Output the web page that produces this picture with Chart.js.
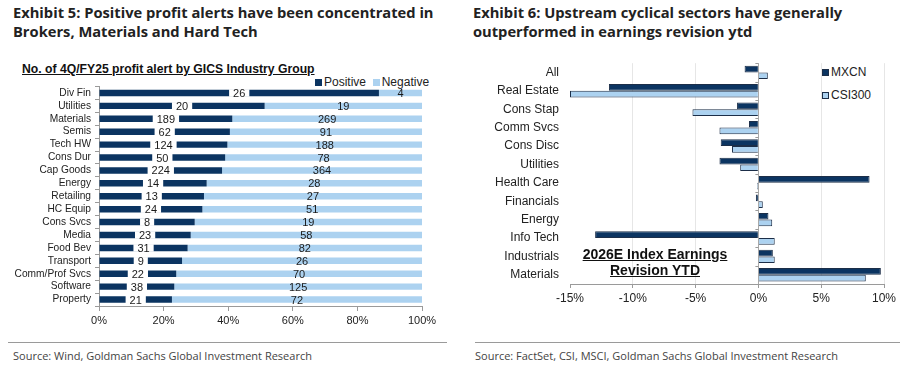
<!DOCTYPE html>
<html>
<head>
<meta charset="utf-8">
<script src="https://cdn.jsdelivr.net/npm/chart.js@4/dist/chart.umd.min.js"></script>
<style>
  html,body{margin:0;padding:0;background:#fff;}
  body{width:909px;height:371px;position:relative;overflow:hidden;font-family:"Liberation Sans",Arial,sans-serif;}
  .title{position:absolute;font-family:"Open Sans",sans-serif;font-weight:700;font-size:14.7px;line-height:19px;color:#222;}
  .sub{position:absolute;font-weight:700;font-size:12.2px;text-decoration:underline;color:#111;}
  .leg{position:absolute;font-size:12px;color:#222;white-space:nowrap;}
  .sw{display:inline-block;width:7px;height:7px;margin-right:2px;vertical-align:0px;box-sizing:border-box;}
  .rule{position:absolute;border-top:1px solid #9a9a9a;height:0;}
  .src{position:absolute;font-family:"Open Sans",sans-serif;font-size:11px;color:#444;white-space:nowrap;}
  .note{position:absolute;font-weight:700;font-size:14px;line-height:16px;text-decoration:underline;text-align:center;color:#111;}
  canvas{position:absolute;}
</style>
</head>
<body>
<div class="title" style="left:13px;top:3px;">Exhibit 5: Positive profit alerts have been concentrated in<br>Brokers, Materials and Hard Tech</div>
<div class="title" style="left:473px;top:3px;">Exhibit 6: Upstream cyclical sectors have generally<br>outperformed in earnings revision ytd</div>
<div class="sub" style="left:22px;top:62px;">No. of 4Q/FY25 profit alert by GICS Industry Group</div>
<div class="leg" id="legL" style="left:315px;top:75px;"></div>
<div class="leg" id="legR" style="left:822px;top:61px;line-height:23px;"></div>
<canvas id="c1" width="455" height="275" style="left:0;top:60px;"></canvas>
<canvas id="c2" width="439" height="270" style="left:470px;top:45px;"></canvas>
<div class="note" style="left:555px;top:246px;width:200px;">2026E Index Earnings<br>Revision YTD</div>
<div class="rule" style="left:8px;top:342px;width:439px;"></div>
<div class="rule" style="left:475px;top:342px;width:425px;"></div>
<div class="src" style="left:13px;top:348px;">Source: Wind, Goldman Sachs Global Investment Research</div>
<div class="src" style="left:475px;top:348px;">Source: FactSet, CSI, MSCI, Goldman Sachs Global Investment Research</div>
<script>
// ---------- Data: Exhibit 5 ----------
const groups = ['Div Fin','Utilities','Materials','Semis','Tech HW','Cons Dur','Cap Goods','Energy','Retailing','HC Equip','Cons Svcs','Media','Food Bev','Transport','Comm/Prof Svcs','Software','Property'];
const positiveCounts = [26,20,189,62,124,50,224,14,13,24,8,23,31,9,22,38,21];
const negativeCounts = [4,19,269,91,188,78,364,28,27,51,19,58,82,26,70,125,72];
const pctTicks = [0,20,40,60,80,100];

// ---------- Data: Exhibit 6 ----------
const sectors = ['All','Real Estate','Cons Stap','Comm Svcs','Cons Disc','Utilities','Health Care','Financials','Energy','Info Tech','Industrials','Materials'];
const mxcn   = [-1.1,-11.9,-1.7,-0.75,-3.0,-3.1,8.85,-0.2,0.8,-13.0,1.15,9.75];
const csi300 = [0.75,-15.0,-5.25,-3.1,-2.1,-1.45,-0.1,0.35,1.1,1.3,1.3,8.55];
const revTicks = [-15,-10,-5,0,5,10];

const NAVY = '#0b3461';
const LIGHT = '#acd2f0';
const EDGE = '#1c2e48';

Chart.defaults.font.family = '"Liberation Sans", Arial, sans-serif';
Chart.defaults.color = '#222';

// shares for 100% stacked bars
const totals = positiveCounts.map((p,i)=>p+negativeCounts[i]);
const posShare = positiveCounts.map((p,i)=>p/totals[i]*100);
const negShare = negativeCounts.map((n,i)=>n/totals[i]*100);

const countLabels = {
  id:'countLabels',
  afterDatasetsDraw(chart){
    const ctx = chart.ctx;
    const src = [positiveCounts, negativeCounts];
    ctx.save();
    ctx.font = '11px "Liberation Sans", Arial, sans-serif';
    ctx.textAlign = 'center';
    ctx.textBaseline = 'middle';
    chart.data.datasets.forEach((ds,di)=>{
      const meta = chart.getDatasetMeta(di);
      meta.data.forEach((el,i)=>{
        const p = el.getProps(['x','y','base','height'],true);
        const cx = (p.x + p.base)/2;
        const txt = String(src[di][i]);
        const w = ctx.measureText(txt).width;
        if(di===0){
          ctx.fillStyle = '#fff';
          ctx.fillRect(cx - w/2 - 4, p.y - p.height/2 - 0.5, w + 8, p.height + 1);
        }
        ctx.fillStyle = '#1a1a1a';
        ctx.fillText(txt, cx, p.y + 1);
      });
    });
    ctx.restore();
  }
};

new Chart(document.getElementById('c1'), {
  type:'bar',
  data:{
    labels: groups,
    datasets:[
      {label:'Positive', data:posShare, backgroundColor:NAVY, barPercentage:0.5, categoryPercentage:1},
      {label:'Negative', data:negShare, backgroundColor:LIGHT, barPercentage:0.5, categoryPercentage:1}
    ]
  },
  options:{
    indexAxis:'y', responsive:false, animation:false, devicePixelRatio:1,
    layout:{padding:{top:26.5,right:33,left:0,bottom:0}},
    plugins:{legend:{display:false}, tooltip:{enabled:false}},
    scales:{
      x:{stacked:true, min:0, max:100,
         afterBuildTicks(s){ s.ticks = pctTicks.map(v=>({value:v})); },
         ticks:{callback:v=>v+'%', font:{size:11}, color:'#222', padding:3, maxRotation:0},
         grid:{drawOnChartArea:false, tickLength:5, tickColor:'#9a9a9a'},
         border:{color:'#9a9a9a'},
         afterFit(s){ s.height = 29; }},
      y:{stacked:true,
         ticks:{font:{size:10.2}, color:'#222', padding:4, autoSkip:false},
         grid:{drawOnChartArea:false, tickLength:4, tickColor:'#9a9a9a', offset:true},
         border:{color:'#9a9a9a'},
         afterFit(s){ s.width = 99; }}
    }
  },
  plugins:[countLabels]
});

const zeroTicks = {
  id:'zeroTicks',
  afterDatasetsDraw(chart){
    const xs = chart.scales.x, ys = chart.scales.y;
    const x0 = xs.getPixelForValue(0);
    const n = chart.data.labels.length;
    const step = (ys.getPixelForValue(1) - ys.getPixelForValue(0));
    const ctx = chart.ctx;
    ctx.save();
    ctx.strokeStyle = '#9a9a9a';
    ctx.lineWidth = 1;
    ctx.beginPath();
    for(let i=0;i<=n;i++){
      const y = Math.round(ys.getPixelForValue(0) - step/2 + i*step) + 0.5;
      ctx.moveTo(x0-3, y); ctx.lineTo(x0, y);
    }
    ctx.stroke();
    ctx.restore();
  }
};

new Chart(document.getElementById('c2'), {
  type:'bar',
  data:{
    labels: sectors,
    datasets:[
      {label:'MXCN', data:mxcn, backgroundColor:NAVY, borderColor:EDGE, borderWidth:1, barPercentage:1, categoryPercentage:0.73},
      {label:'CSI300', data:csi300, backgroundColor:LIGHT, borderColor:EDGE, borderWidth:1, barPercentage:1, categoryPercentage:0.73}
    ]
  },
  options:{
    indexAxis:'y', responsive:false, animation:false, devicePixelRatio:1,
    layout:{padding:{top:8.5,right:25,left:0,bottom:0}},
    plugins:{legend:{display:false}, tooltip:{enabled:false}},
    scales:{
      x:{min:-15, max:10,
         afterBuildTicks(s){ s.ticks = revTicks.map(v=>({value:v})); },
         ticks:{callback:v=>v+'%', font:{size:12}, color:'#222', padding:3, maxRotation:0},
         grid:{color:c=> c.tick && c.tick.value===0 ? '#a8a8a8' : (c.tick && c.tick.value===-15 ? 'rgba(0,0,0,0)' : '#e6e6e6'),
               tickLength:4, tickColor:'#9a9a9a'},
         border:{color:'#9a9a9a'},
         afterFit(s){ s.height = 31; }},
      y:{ticks:{font:{size:12}, color:'#222', padding:11, autoSkip:false},
         grid:{display:false, drawTicks:false},
         border:{display:false},
         afterFit(s){ s.width = 100; }}
    }
  },
  plugins:[zeroTicks]
});

// HTML legends built from the series names
document.getElementById('legL').innerHTML =
  '<span class="sw" style="background:'+NAVY+'"></span>Positive&nbsp; <span class="sw" style="background:'+LIGHT+'"></span>Negative';
document.getElementById('legR').innerHTML =
  '<div><span class="sw" style="background:'+NAVY+';border:1px solid '+EDGE+'"></span>MXCN</div>' +
  '<div><span class="sw" style="background:'+LIGHT+';border:1px solid '+EDGE+'"></span>CSI300</div>';
</script>
</body>
</html>
